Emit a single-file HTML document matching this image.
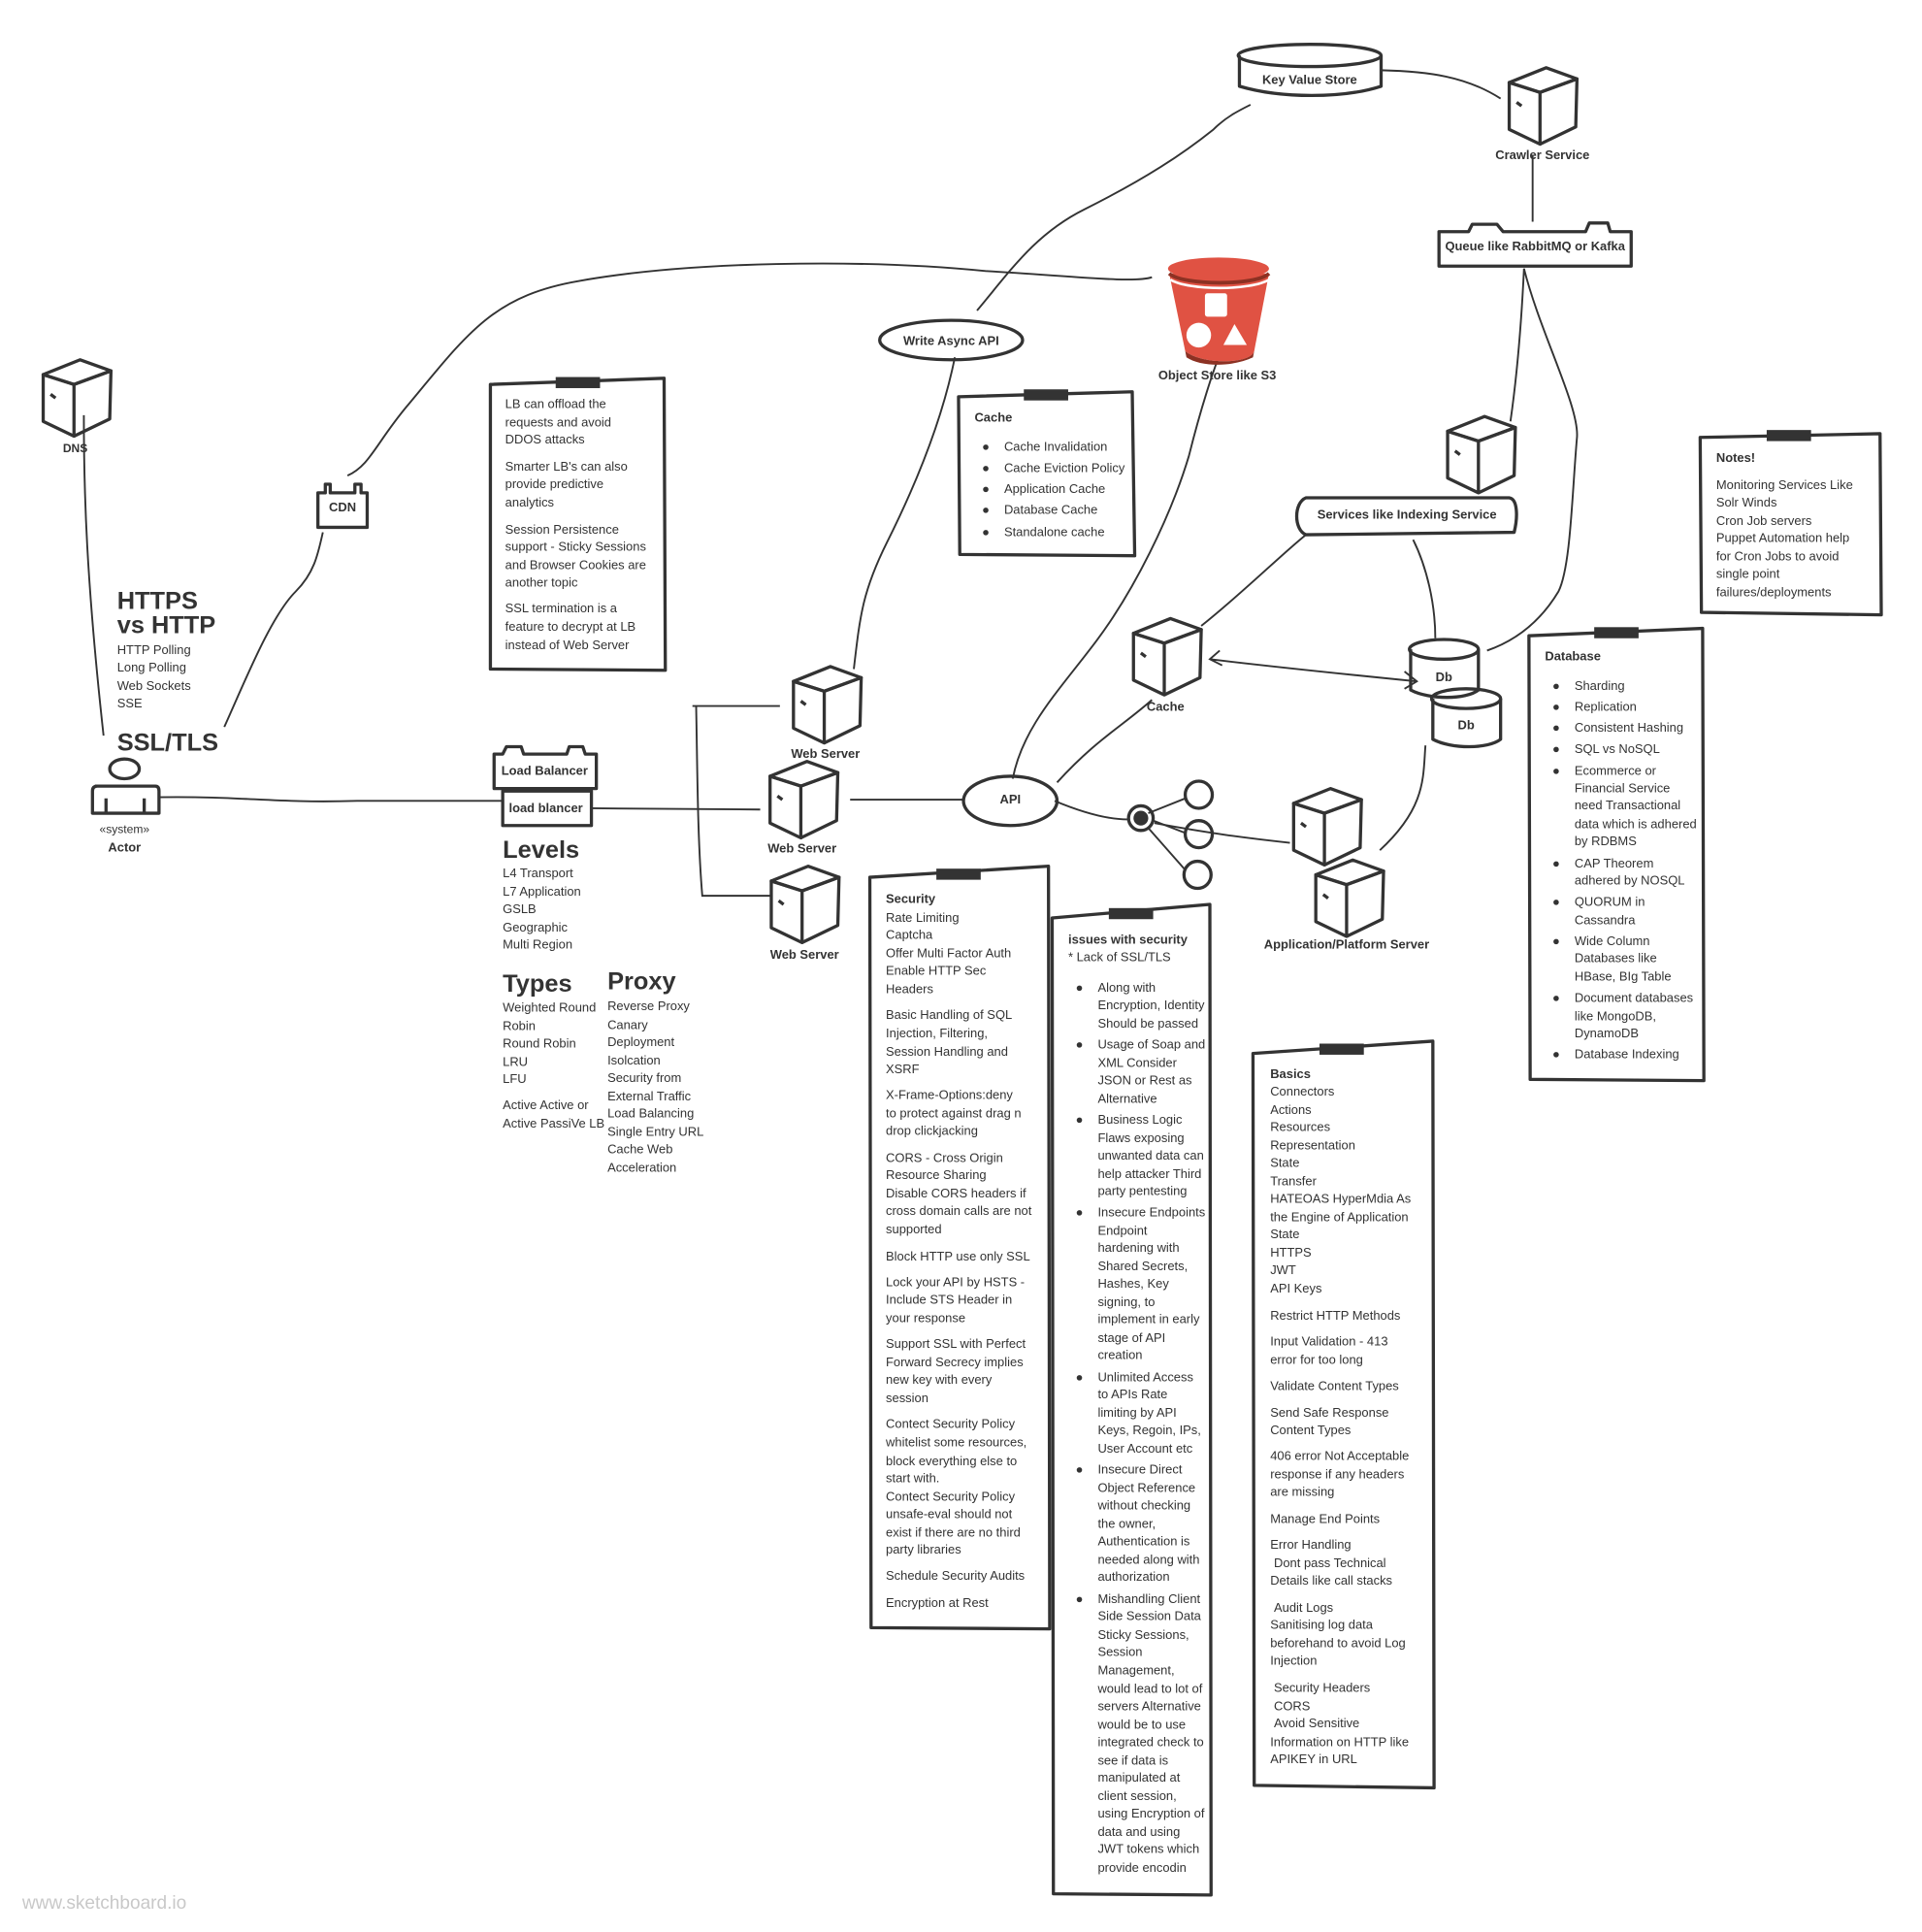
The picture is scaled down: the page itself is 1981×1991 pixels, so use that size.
<!DOCTYPE html>
<html><head><meta charset="utf-8"><style>
html,body{margin:0;padding:0;background:#fff;}
svg{display:block;}
text{font-family:"Liberation Sans",sans-serif;fill:#333;font-size:10.2px;}
.b{font-weight:bold;}
.c{text-anchor:middle;}
.h{font-size:20px;font-weight:bold;}
.s{fill:none;stroke:#333;stroke-width:2.6;stroke-linejoin:round;}
.l{fill:none;stroke:#333;stroke-width:1.5;}
</style></head><body>
<svg width="1981" height="1991" viewBox="0 0 1560 1568" xmlns="http://www.w3.org/2000/svg">
<defs>
<g id="cube">
<path class="s" fill="#fff" d="M0,12 L30,0 L55,9 L25,20 Z"/>
<path class="s" d="M0,12 L25,20 L25,62 L0,50 Z"/>
<path class="s" d="M25,20 L55,9 L54,48 L25,62"/>
<path class="s" d="M6,28 L10,31"/>
</g>
<g id="tape"><rect x="-18" y="-4" width="36" height="9" fill="#333"/></g>
</defs>

<!-- connectors -->
<path class="l" d="M68,337 C68,400 70,470 84,597"/>
<path class="l" d="M128,647 C200,646 220,652 290,650 L408,650"/>
<path class="l" d="M480,656 L617,657"/>
<path class="l" d="M562,573 L633,573 M565,573 C566,620 566,680 570,727 L627,727"/>
<path class="l" d="M690,649 L782,649"/>
<path class="l" d="M182,590 C200,550 220,500 240,480 C255,465 258,450 262,432"/>
<path class="l" d="M282,386 C300,378 305,360 330,330 C380,270 400,240 470,228 C560,212 700,210 800,220 C870,224 920,230 935,225"/>
<path class="l" d="M693,543 C698,500 700,480 720,440 C745,390 765,340 775,290"/>
<path class="l" d="M793,252 C820,220 840,190 880,170 C930,145 960,125 985,105 C995,95 1005,90 1015,85"/>
<path class="l" d="M1121,57 C1160,58 1190,62 1218,80"/>
<path class="l" d="M1244,126 L1244,180"/>
<path class="l" d="M1237,218 C1235,260 1232,300 1226,342"/>
<path class="l" d="M1237,218 C1250,270 1282,330 1280,355 C1276,400 1275,460 1265,480 C1250,505 1230,520 1207,528"/>
<path class="l" d="M1060,434 C1040,450 1010,480 975,508"/>
<path class="l" d="M1147,438 C1158,460 1165,490 1165,518"/>
<path class="l" d="M822,632 C830,590 860,560 890,520 C920,480 950,420 965,370 C975,330 985,300 990,288"/>
<path class="l" d="M858,635 C890,600 910,590 935,568"/>
<path class="l" d="M982,535 C1040,542 1100,548 1150,553 M1140,545 L1150,553 L1140,559 M990,528 L982,535 L992,540"/>
<path class="l" d="M856,650 C880,660 900,665 915,665"/>
<path class="l" d="M932,660 L962,648 M936,666 L962,676 M932,672 L962,706"/>
<path class="l" d="M937,668 C980,676 1010,680 1047,684"/>
<path class="l" d="M1157,605 C1155,630 1158,655 1120,690"/>

<use href="#cube" x="35" y="292"/>
<text class="b c" x="61" y="367" style="font-size:9.5px">DNS</text>
<use href="#cube" x="1225" y="55"/>
<text class="b c" x="1252" y="129">Crawler Service</text>
<use href="#cube" x="1175" y="338"/>
<use href="#cube" x="920" y="502"/>
<text class="b c" x="946" y="577">Cache</text>
<use href="#cube" x="644" y="541"/>
<text class="b c" x="670" y="615">Web Server</text>
<use href="#cube" x="625" y="618"/>
<text class="b c" x="651" y="692">Web Server</text>
<use href="#cube" x="626" y="703"/>
<text class="b c" x="653" y="778">Web Server</text>
<use href="#cube" x="1050" y="640"/>
<use href="#cube" x="1068" y="698"/>
<text class="b c" x="1093" y="770">Application/Platform Server</text>

<path class="s" fill="#fff" d="M1006,45 L1006,70 C1040,80 1090,80 1121,70 L1121,45"/>
<ellipse class="s" cx="1063" cy="45" rx="58" ry="9" fill="#fff"/>
<text class="b c" x="1063" y="68">Key Value Store</text>

<path class="s" fill="#fff" d="M1168,188 L1192,188 L1195,182 L1215,182 L1220,188 L1287,188 L1290,181 L1305,181 L1307,188 L1324,188 L1324,216 L1168,216 Z"/>
<text class="b c" x="1246" y="203">Queue like RabbitMQ or Kafka</text>

<path class="s" fill="#fff" d="M1060,404 L1225,404 C1232,405 1232,420 1229,432 L1060,434 C1050,430 1050,408 1060,404 Z"/>
<text class="b c" x="1142" y="421">Services like Indexing Service</text>

<ellipse class="s" cx="772" cy="276" rx="58" ry="16"/>
<text class="b c" x="772" y="280">Write Async API</text>
<ellipse class="s" cx="820" cy="650" rx="38" ry="20"/>
<text class="b c" x="820" y="652">API</text>

<path d="M949,222 L962,285 C975,296 1015,296 1018,285 L1030,222 Z" fill="#e05243"/>
<path d="M962,285 C975,296 1015,296 1018,285 L1017,290 C1000,298 975,298 963,290 Z" fill="#8c3123"/>
<ellipse cx="989" cy="218" rx="41" ry="9" fill="#e05243"/>
<path d="M949,222 C960,232 1020,232 1030,222" stroke="#8c3123" stroke-width="3" fill="none"/>
<path d="M950,227 C965,236 1015,236 1030,227" stroke="#fff" stroke-width="2" fill="none"/>
<rect x="978" y="238" width="18" height="19" rx="2" fill="#fff"/>
<circle cx="973" cy="272" r="10" fill="#fff"/>
<path d="M1002,263 L1012,280 L993,280 Z" fill="#fff"/>
<text class="b c" x="988" y="308">Object Store like S3</text>

<path class="s" fill="#fff" d="M1145,527 L1145,560 C1160,568 1190,568 1200,560 L1200,527"/>
<ellipse class="s" cx="1172" cy="527" rx="28" ry="8" fill="#fff"/>
<text class="b c" x="1172" y="553">Db</text>
<path class="s" fill="#fff" d="M1163,567 L1163,600 C1178,608 1208,608 1218,600 L1218,567"/>
<ellipse class="s" cx="1190" cy="567" rx="28" ry="8" fill="#fff"/>
<text class="b c" x="1190" y="592">Db</text>

<circle class="s" cx="926" cy="664" r="10"/>
<circle cx="926" cy="664" r="6" fill="#333"/>
<circle class="s" cx="973" cy="645" r="11"/>
<circle class="s" cx="973" cy="677" r="11"/>
<circle class="s" cx="972" cy="710" r="11"/>

<path class="s" fill="#fff" d="M258,400 L264,400 L264,393 L268,393 L268,400 L288,400 L288,393 L293,393 L293,400 L298,400 L298,428 L258,428 Z"/>
<text class="b c" x="278" y="415">CDN</text>

<path class="s" fill="#fff" d="M401,612 L408,612 L411,606 L423,606 L425,612 L460,612 L462,606 L473,606 L475,612 L484,612 L484,640 L401,640 Z"/>
<text class="b c" x="442" y="629">Load Balancer</text>
<rect class="s" x="408" y="642" width="72" height="28" fill="#fff"/>
<text class="b c" x="443" y="659">load blancer</text>

<ellipse class="s" cx="101" cy="624" rx="12" ry="8"/>
<path class="s" d="M77,638 L126,638 Q129,638 129,642 L129,660 L75,660 L75,642 Q75,638 79,638 M86,648 L86,660 M117,648 L117,660"/>
<text class="c" x="101" y="676" style="font-size:9.5px">«system»</text>
<text class="b c" x="101" y="691">Actor</text>

<text class="h" x="95" y="494">HTTPS</text>
<text class="h" x="95" y="514">vs HTTP</text>
<text x="95" y="531">HTTP Polling</text>
<text x="95" y="545">Long Polling</text>
<text x="95" y="560">Web Sockets</text>
<text x="95" y="574">SSE</text>
<text class="h" x="95" y="609">SSL/TLS</text>

<text class="h" x="408" y="696">Levels</text>
<text x="408" y="712">L4 Transport</text>
<text x="408" y="727">L7 Application</text>
<text x="408" y="741">GSLB</text>
<text x="408" y="756">Geographic</text>
<text x="408" y="770">Multi Region</text>
<text class="h" x="408" y="805">Types</text>
<text x="408" y="821">Weighted Round</text>
<text x="408" y="836">Robin</text>
<text x="408" y="850">Round Robin</text>
<text x="408" y="865">LRU</text>
<text x="408" y="879">LFU</text>
<text x="408" y="900">Active Active or</text>
<text x="408" y="915">Active PassiVe LB</text>
<text class="h" x="493" y="803">Proxy</text>
<text x="493" y="820">Reverse Proxy</text>
<text x="493" y="835">Canary</text>
<text x="493" y="849">Deployment</text>
<text x="493" y="864">Isolcation</text>
<text x="493" y="878">Security from</text>
<text x="493" y="893">External Traffic</text>
<text x="493" y="907">Load Balancing</text>
<text x="493" y="922">Single Entry URL</text>
<text x="493" y="936">Cache Web</text>
<text x="493" y="951">Acceleration</text>

<path class="s" d="M398,312 L539,307 L540,544 L398,543 Z"/>
<use href="#tape" x="469" y="310"/>
<text x="410" y="331">LB can offload the</text>
<text x="410" y="346">requests and avoid</text>
<text x="410" y="360">DDOS attacks</text>
<text x="410" y="382">Smarter LB's can also</text>
<text x="410" y="396">provide predictive</text>
<text x="410" y="411">analytics</text>
<text x="410" y="433">Session Persistence</text>
<text x="410" y="447">support - Sticky Sessions</text>
<text x="410" y="462">and Browser Cookies are</text>
<text x="410" y="476">another topic</text>
<text x="410" y="497">SSL termination is a</text>
<text x="410" y="512">feature to decrypt at LB</text>
<text x="410" y="527">instead of Web Server</text>

<path class="s" d="M778,322 L919,318 L921,451 L779,450 Z"/>
<use href="#tape" x="849" y="320"/>
<text class="b" x="791" y="342">Cache</text>
<text x="797" y="366">●</text><text x="815" y="366">Cache Invalidation</text>
<text x="797" y="383">●</text><text x="815" y="383">Cache Eviction Policy</text>
<text x="797" y="400">●</text><text x="815" y="400">Application Cache</text>
<text x="797" y="417">●</text><text x="815" y="417">Database Cache</text>
<text x="797" y="435">●</text><text x="815" y="435">Standalone cache</text>

<path class="s" d="M1380,355 L1526,352 L1527,499 L1381,497 Z"/>
<use href="#tape" x="1452" y="353"/>
<text class="b" x="1393" y="375">Notes!</text>
<text x="1393" y="397">Monitoring Services Like</text>
<text x="1393" y="411">Solr Winds</text>
<text x="1393" y="426">Cron Job servers</text>
<text x="1393" y="440">Puppet Automation help</text>
<text x="1393" y="455">for Cron Jobs to avoid</text>
<text x="1393" y="469">single point</text>
<text x="1393" y="484">failures/deployments</text>

<path class="s" d="M1241,516 L1382,510 L1383,877 L1242,876 Z"/>
<use href="#tape" x="1312" y="513"/>
<text class="b" x="1254" y="536">Database</text>
<g>
<text x="1260" y="560">●</text><text x="1278" y="560">Sharding</text>
<text x="1260" y="577">●</text><text x="1278" y="577">Replication</text>
<text x="1260" y="594">●</text><text x="1278" y="594">Consistent Hashing</text>
<text x="1260" y="611">●</text><text x="1278" y="611">SQL vs NoSQL</text>
<text x="1260" y="629">●</text><text x="1278" y="629">Ecommerce or</text>
<text x="1278" y="643">Financial Service</text>
<text x="1278" y="657">need Transactional</text>
<text x="1278" y="672">data which is adhered</text>
<text x="1278" y="686">by RDBMS</text>
<text x="1260" y="704">●</text><text x="1278" y="704">CAP Theorem</text>
<text x="1278" y="718">adhered by NOSQL</text>
<text x="1260" y="735">●</text><text x="1278" y="735">QUORUM in</text>
<text x="1278" y="750">Cassandra</text>
<text x="1260" y="767">●</text><text x="1278" y="767">Wide Column</text>
<text x="1278" y="781">Databases like</text>
<text x="1278" y="796">HBase, BIg Table</text>
<text x="1260" y="813">●</text><text x="1278" y="813">Document databases</text>
<text x="1278" y="828">like MongoDB,</text>
<text x="1278" y="842">DynamoDB</text>
<text x="1260" y="859">●</text><text x="1278" y="859">Database Indexing</text>
</g>

<path class="s" d="M706,712 L851,703 L852,1322 L707,1321 Z"/>
<use href="#tape" x="778" y="709"/>
<text class="b" x="719" y="733">Security</text>
<text x="719" y="748">Rate Limiting</text>
<text x="719" y="762">Captcha</text>
<text x="719" y="777">Offer Multi Factor Auth</text>
<text x="719" y="791">Enable HTTP Sec</text>
<text x="719" y="806">Headers</text>
<text x="719" y="827">Basic Handling of SQL</text>
<text x="719" y="842">Injection, Filtering,</text>
<text x="719" y="857">Session Handling and</text>
<text x="719" y="871">XSRF</text>
<text x="719" y="892">X-Frame-Options:deny</text>
<text x="719" y="907">to protect against drag n</text>
<text x="719" y="921">drop clickjacking</text>
<text x="719" y="943">CORS - Cross Origin</text>
<text x="719" y="957">Resource Sharing</text>
<text x="719" y="972">Disable CORS headers if</text>
<text x="719" y="986">cross domain calls are not</text>
<text x="719" y="1001">supported</text>
<text x="719" y="1023">Block HTTP use only SSL</text>
<text x="719" y="1044">Lock your API by HSTS -</text>
<text x="719" y="1058">Include STS Header in</text>
<text x="719" y="1073">your response</text>
<text x="719" y="1094">Support SSL with Perfect</text>
<text x="719" y="1109">Forward Secrecy implies</text>
<text x="719" y="1123">new key with every</text>
<text x="719" y="1138">session</text>
<text x="719" y="1159">Contect Security Policy</text>
<text x="719" y="1174">whitelist some resources,</text>
<text x="719" y="1189">block everything else to</text>
<text x="719" y="1203">start with.</text>
<text x="719" y="1218">Contect Security Policy</text>
<text x="719" y="1232">unsafe-eval should not</text>
<text x="719" y="1247">exist if there are no third</text>
<text x="719" y="1261">party libraries</text>
<text x="719" y="1282">Schedule Security Audits</text>
<text x="719" y="1304">Encryption at Rest</text>

<path class="s" d="M854,745 L982,734 L983,1538 L855,1537 Z"/>
<use href="#tape" x="918" y="741"/>
<text class="b" x="867" y="766">issues with security</text>
<text x="867" y="780">* Lack of SSL/TLS</text>
<g>
<text x="873" y="805">●</text><text x="891" y="805">Along with</text>
<text x="891" y="819">Encryption, Identity</text>
<text x="891" y="834">Should be passed</text>
<text x="873" y="851">●</text><text x="891" y="851">Usage of Soap and</text>
<text x="891" y="866">XML Consider</text>
<text x="891" y="880">JSON or Rest as</text>
<text x="891" y="895">Alternative</text>
<text x="873" y="912">●</text><text x="891" y="912">Business Logic</text>
<text x="891" y="927">Flaws exposing</text>
<text x="891" y="941">unwanted data can</text>
<text x="891" y="956">help attacker Third</text>
<text x="891" y="970">party pentesting</text>
<text x="873" y="987">●</text><text x="891" y="987">Insecure Endpoints</text>
<text x="891" y="1002">Endpoint</text>
<text x="891" y="1016">hardening with</text>
<text x="891" y="1031">Shared Secrets,</text>
<text x="891" y="1045">Hashes, Key</text>
<text x="891" y="1060">signing, to</text>
<text x="891" y="1074">implement in early</text>
<text x="891" y="1089">stage of API</text>
<text x="891" y="1103">creation</text>
<text x="873" y="1121">●</text><text x="891" y="1121">Unlimited Access</text>
<text x="891" y="1135">to APIs Rate</text>
<text x="891" y="1150">limiting by API</text>
<text x="891" y="1164">Keys, Regoin, IPs,</text>
<text x="891" y="1179">User Account etc</text>
<text x="873" y="1196">●</text><text x="891" y="1196">Insecure Direct</text>
<text x="891" y="1211">Object Reference</text>
<text x="891" y="1225">without checking</text>
<text x="891" y="1240">the owner,</text>
<text x="891" y="1254">Authentication is</text>
<text x="891" y="1269">needed along with</text>
<text x="891" y="1283">authorization</text>
<text x="873" y="1301">●</text><text x="891" y="1301">Mishandling Client</text>
<text x="891" y="1315">Side Session Data</text>
<text x="891" y="1330">Sticky Sessions,</text>
<text x="891" y="1344">Session</text>
<text x="891" y="1359">Management,</text>
<text x="891" y="1374">would lead to lot of</text>
<text x="891" y="1388">servers Alternative</text>
<text x="891" y="1403">would be to use</text>
<text x="891" y="1417">integrated check to</text>
<text x="891" y="1432">see if data is</text>
<text x="891" y="1446">manipulated at</text>
<text x="891" y="1461">client session,</text>
<text x="891" y="1475">using Encryption of</text>
<text x="891" y="1490">data and using</text>
<text x="891" y="1504">JWT tokens which</text>
<text x="891" y="1519">provide encodin</text>
</g>

<path class="s" d="M1017,855 L1163,845 L1164,1451 L1018,1449 Z"/>
<use href="#tape" x="1089" y="851"/>
<text class="b" x="1031" y="875">Basics</text>
<text x="1031" y="889">Connectors</text>
<text x="1031" y="904">Actions</text>
<text x="1031" y="918">Resources</text>
<text x="1031" y="933">Representation</text>
<text x="1031" y="947">State</text>
<text x="1031" y="962">Transfer</text>
<text x="1031" y="976">HATEOAS HyperMdia As</text>
<text x="1031" y="991">the Engine of Application</text>
<text x="1031" y="1005">State</text>
<text x="1031" y="1020">HTTPS</text>
<text x="1031" y="1034">JWT</text>
<text x="1031" y="1049">API Keys</text>
<text x="1031" y="1071">Restrict HTTP Methods</text>
<text x="1031" y="1092">Input Validation - 413</text>
<text x="1031" y="1107">error for too long</text>
<text x="1031" y="1128">Validate Content Types</text>
<text x="1031" y="1150">Send Safe Response</text>
<text x="1031" y="1164">Content Types</text>
<text x="1031" y="1185">406 error Not Acceptable</text>
<text x="1031" y="1200">response if any headers</text>
<text x="1031" y="1214">are missing</text>
<text x="1031" y="1236">Manage End Points</text>
<text x="1031" y="1257">Error Handling</text>
<text x="1034" y="1272">Dont pass Technical</text>
<text x="1031" y="1286">Details like call stacks</text>
<text x="1034" y="1308">Audit Logs</text>
<text x="1031" y="1322">Sanitising log data</text>
<text x="1031" y="1337">beforehand to avoid Log</text>
<text x="1031" y="1351">Injection</text>
<text x="1034" y="1373">Security Headers</text>
<text x="1034" y="1388">CORS</text>
<text x="1034" y="1402">Avoid Sensitive</text>
<text x="1031" y="1417">Information on HTTP like</text>
<text x="1031" y="1431">APIKEY in URL</text>

<text x="18" y="1549" style="font-size:15px;fill:#c8c8c8">www.sketchboard.io</text>
</svg>
</body></html>
